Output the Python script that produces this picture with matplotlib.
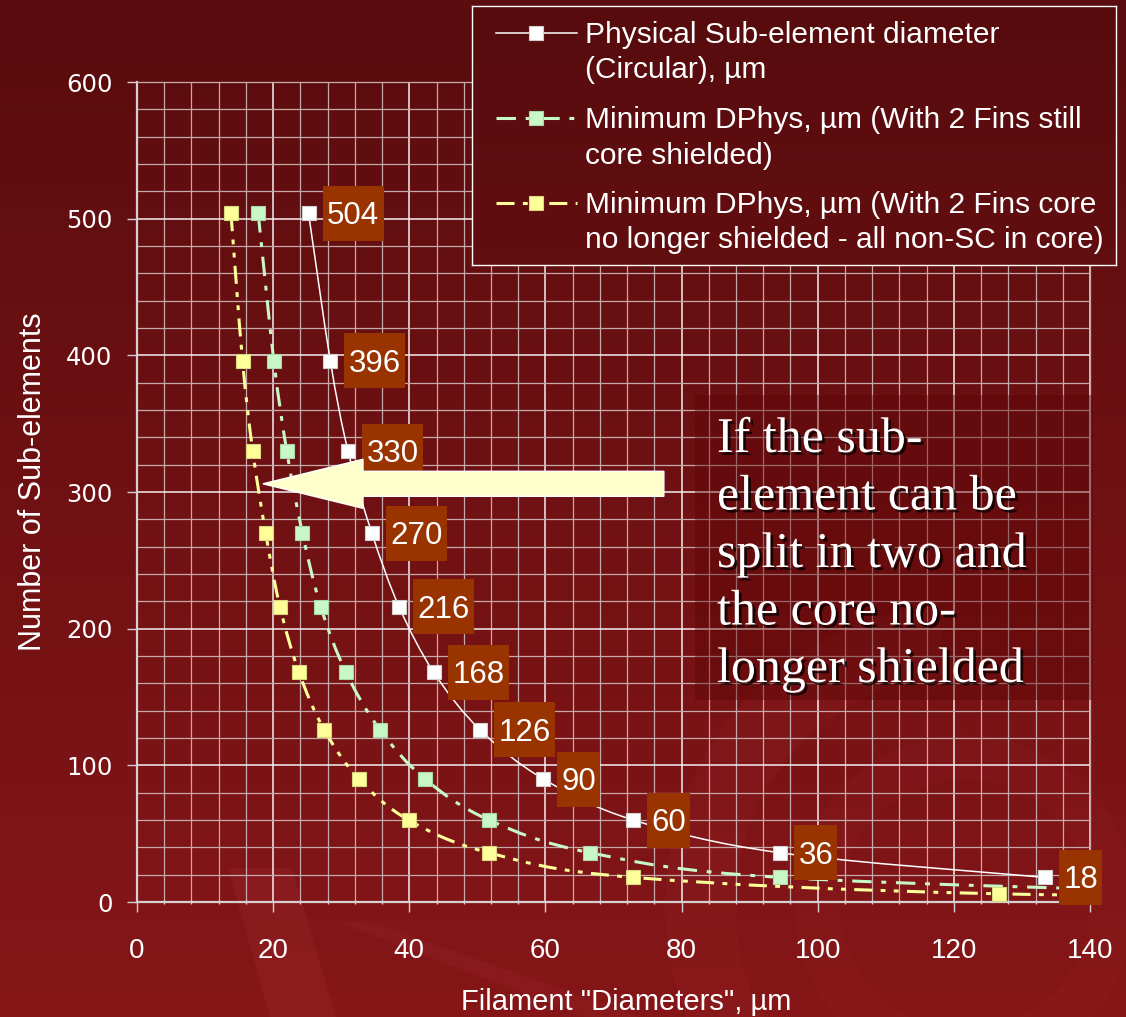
import numpy as np
import matplotlib
matplotlib.use("Agg")
import matplotlib.pyplot as plt
import matplotlib.transforms as mtransforms
import matplotlib.patheffects as pe
from matplotlib.path import Path
from matplotlib.patches import PathPatch, Rectangle, FancyArrow, Polygon, Wedge

plt.rcParams['font.family'] = ['Liberation Sans', 'DejaVu Sans']
plt.rcParams['lines.scale_dashes'] = False

W, H = 1126, 1017

# number of sub-elements in the strand
counts = [504, 396, 330, 270, 216, 168, 126, 90, 60, 36, 18]
# physical sub-element diameter (circular), um
phys_diam = [25.2, 28.4, 31.0, 34.5, 38.5, 43.6, 50.4, 59.7, 72.9, 94.5, 133.4]
# minimum DPhys with 2 fins, core still shielded (last point runs off the axis)
shield_counts = counts + [6]
shield_diam = [17.8, 20.1, 22.0, 24.3, 27.0, 30.7, 35.7, 42.3, 51.7, 66.6, 94.5, 163.7]
# minimum DPhys with 2 fins, core no longer shielded
open_counts = counts + [6, 2]
open_diam = [13.8, 15.5, 17.0, 18.9, 21.0, 23.8, 27.5, 32.6, 39.9, 51.7, 72.9, 126.6, 219.0]

x_ticks = [0, 20, 40, 60, 80, 100, 120, 140]
y_ticks = [0, 100, 200, 300, 400, 500, 600]

legend_labels = [
    ['Physical Sub-element diameter', '(Circular), µm'],
    ['Minimum DPhys, µm (With 2 Fins still', 'core shielded)'],
    ['Minimum DPhys, µm (With 2 Fins core', 'no longer shielded - all non-SC in core)'],
]
note_lines = ['If the sub-', 'element can be', 'split in two and', 'the core no-', 'longer shielded']

WHITE_LS = '-'
GREEN_LS = (0, (14, 7, 3.5, 7))
YELLOW_LS = (0, (13, 6, 3.5, 6, 3.5, 6))
GREEN = '#c8f8c8'
YELLOW = '#ffff99'
LABEL_BOX = '#993300'


def bg_rgb(ypx):
    # vertical maroon gradient used for the slide background
    t = np.clip(np.asarray(ypx, dtype=float) / H, 0, 1)[:, None]
    top = np.array([90, 12, 14]) / 255
    bot = np.array([134, 22, 24]) / 255
    return top + (bot - top) * t


def smooth_path(xs, ys):
    # smoothed line through the points (Catmull-Rom as cubic beziers)
    pts = np.column_stack([xs, ys]).astype(float)
    n = len(pts)
    verts = [pts[0]]
    codes = [Path.MOVETO]
    for i in range(n - 1):
        p0 = pts[max(i - 1, 0)]
        p1 = pts[i]
        p2 = pts[i + 1]
        p3 = pts[min(i + 2, n - 1)]
        verts += [p1 + (p2 - p0) / 6, p2 - (p3 - p1) / 6, p2]
        codes += [Path.CURVE4] * 3
    return Path(verts, codes)


fig = plt.figure(figsize=(W / 100, H / 100), dpi=100)

# background
bg = fig.add_axes([0, 0, 1, 1], zorder=-10)
grad = np.repeat(bg_rgb(np.arange(H))[:, None, :], 2, axis=1)
bg.imshow(grad, extent=[0, W, H, 0], aspect='auto')
bg.set_xlim(0, W)
bg.set_ylim(H, 0)
shade = (0.62, 0.16, 0.18)
bg.add_patch(Polygon([(228, 868), (292, 868), (336, H), (270, H)], fc=shade, ec='none', alpha=0.3))
bg.add_patch(Polygon([(338, 922), (372, 922), (640, H), (585, H)], fc=shade, ec='none', alpha=0.22))
bg.add_patch(Wedge((965, 905), 300, 95, 265, width=70, fc=shade, ec='none', alpha=0.16))
bg.add_patch(Wedge((965, 905), 170, 0, 360, width=45, fc=shade, ec='none', alpha=0.13))
bg.axis('off')

ax = fig.add_axes([137 / W, 1 - 902 / H, 953 / W, 820 / H])
ax.patch.set_alpha(0)
ax.set_xlim(0, 140)
ax.set_ylim(0, 600)
ax.set_xticks(x_ticks)
ax.set_yticks(y_ticks)
ax.set_xticks(np.arange(0, 141, 4), minor=True)
ax.set_yticks(np.arange(0, 601, 20), minor=True)
ax.set_axisbelow(True)
ax.grid(which='minor', color='#c6aaaa', lw=0.9)
ax.grid(which='major', color='#f4eeee', lw=1.1)

for side in ['left', 'bottom']:
    ax.spines[side].set_color('#d8d0d0')
    ax.spines[side].set_linewidth(1.6)
for side in ['top', 'right']:
    ax.spines[side].set_color('#c6aaaa')
    ax.spines[side].set_linewidth(0.9)

ax.tick_params(axis='both', which='major', length=7.2, width=1, color='#d8d0d0',
               direction='out', labelcolor='white')
ax.tick_params(axis='x', which='major', pad=19, labelsize=20)
ax.tick_params(axis='y', which='major', pad=10.5, labelsize=17.5)
ax.tick_params(axis='x', which='minor', length=2.5, width=1, color='#d8d0d0', direction='inout')
ax.tick_params(axis='y', which='minor', length=0)
for lab in ax.get_yticklabels():
    lab.set_fontfamily('DejaVu Sans')

ax.set_xlabel('Filament "Diameters", µm', fontsize=21, color='white')
ax.xaxis.set_label_coords(0.513, -0.1049)
ax.set_ylabel('Number of Sub-elements', fontsize=22, color='white')
ax.yaxis.set_label_coords(-0.0934, 0.512)

# the three series
ax.add_patch(PathPatch(smooth_path(open_diam, open_counts), fill=False, ec=YELLOW,
                       lw=2.2, ls=YELLOW_LS, zorder=3))
ax.add_patch(PathPatch(smooth_path(shield_diam, shield_counts), fill=False, ec=GREEN,
                       lw=2.2, ls=GREEN_LS, zorder=3))
ax.add_patch(PathPatch(smooth_path(phys_diam, counts), fill=False, ec='white',
                       lw=1.1, ls=WHITE_LS, zorder=3))
ax.plot(open_diam, open_counts, ls='none', marker='s', ms=9.5, mfc=YELLOW, mec='#d8d880', mew=0.8, zorder=4)
ax.plot(shield_diam, shield_counts, ls='none', marker='s', ms=9.5, mfc=GREEN, mec='#a8d8a8', mew=0.8, zorder=4)
ax.plot(phys_diam, counts, ls='none', marker='s', ms=9.5, mfc='white', mec='#d0d0d0', mew=0.8, zorder=4)

# value labels beside the physical-diameter points
for x, y in zip(phys_diam, counts):
    txt = str(y)
    w = 0.18 * len(txt) + 0.07
    trans = fig.dpi_scale_trans + mtransforms.ScaledTranslation(x, y, ax.transData)
    ax.add_patch(Rectangle((0.14, -0.275), w, 0.55, transform=trans, fc=LABEL_BOX,
                           ec='none', clip_on=False, zorder=5))
    ax.text(0.14 + w / 2, -0.11, txt, transform=trans, ha='center', va='baseline',
            fontsize=22.5, color='white', clip_on=False, zorder=5.5)

# arrow pointing at the unshielded-core curve
ax.add_patch(FancyArrow(77.4, 306, -58.9, 0, width=18.3, head_width=35.9, head_length=14.7,
                        length_includes_head=True, fc='#ffffcc', ec='white', lw=1,
                        clip_on=False, zorder=6))

# note box
fig.add_artist(Rectangle((695 / W, 1 - 700 / H), 398 / W, 305 / H, transform=fig.transFigure,
                         fc='#5a0406', ec='none', alpha=0.4, zorder=2))
for i, line in enumerate(note_lines):
    fig.text(717 / W, 1 - (452 + 57.5 * i) / H, line, ha='left', va='baseline',
             fontsize=36, color='white', family='Liberation Serif', zorder=3,
             path_effects=[pe.withSimplePatchShadow(offset=(2, -2), shadow_rgbFace='black', alpha=0.75)])

# legend
L, R, T, B = 472, 1116, 6, 265
lax = fig.add_axes([L / W, 1 - B / H, (R - L) / W, (B - T) / H], zorder=3)
lgrad = np.repeat(bg_rgb(np.arange(T, B))[:, None, :] * 0.97, 2, axis=1)
lax.imshow(lgrad, extent=[L, R, B, T], aspect='auto')
lax.set_xlim(L, R)
lax.set_ylim(B, T)
lax.set_xticks([])
lax.set_yticks([])
for s in lax.spines.values():
    s.set_color('white')
    s.set_linewidth(1)

handles = [
    dict(ls=WHITE_LS, lw=1.1, color='white', mfc='white', mec='#d0d0d0'),
    dict(ls=GREEN_LS, lw=2.2, color=GREEN, mfc=GREEN, mec='#a8d8a8'),
    dict(ls=YELLOW_LS, lw=2.2, color=YELLOW, mfc=YELLOW, mec='#d8d880'),
]
marker_y = [33, 118, 203]
for yc, lines, st in zip(marker_y, legend_labels, handles):
    lax.plot([496, 577], [yc, yc], ls=st['ls'], lw=st['lw'], color=st['color'])
    lax.plot([536], [yc], ls='none', marker='s', ms=9.5, mfc=st['mfc'], mec=st['mec'], mew=0.8)
    for j, line in enumerate(lines):
        lax.text(585, yc + 10 + 35.5 * j, line, ha='left', va='baseline', fontsize=21.5, color='white')

fig.savefig('out.png', dpi=100)
